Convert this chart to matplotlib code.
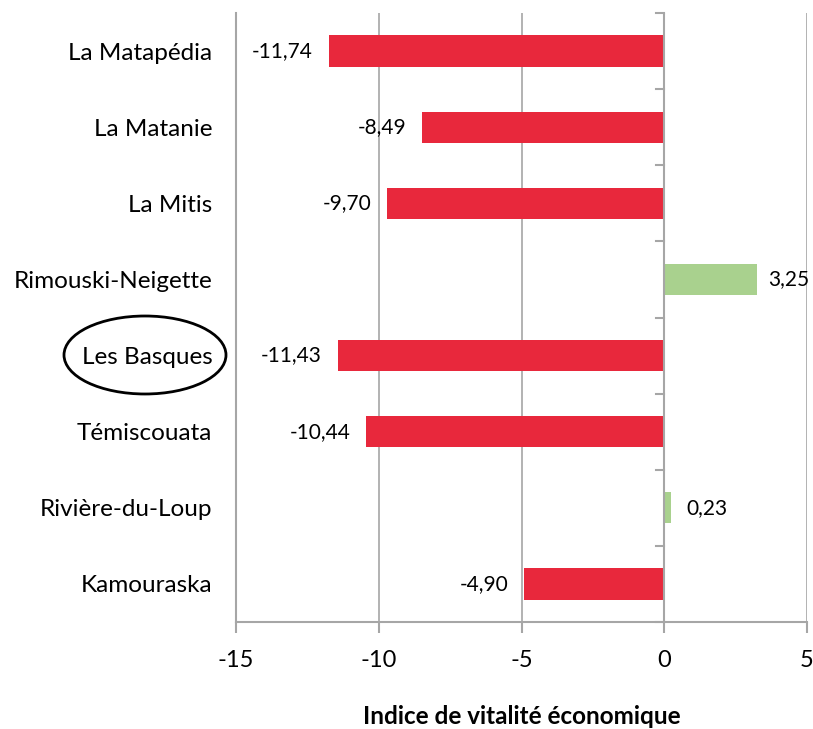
import matplotlib.pyplot as plt
from matplotlib.patches import Ellipse

# data, top to bottom
regions = ["La Matapédia", "La Matanie", "La Mitis", "Rimouski-Neigette",
           "Les Basques", "Témiscouata", "Rivière-du-Loup", "Kamouraska"]
values = [-11.74, -8.49, -9.70, 3.25, -11.43, -10.44, 0.23, -4.90]
xticks = [-15, -10, -5, 0, 5]

RED = "#E8283C"
GREEN = "#A9D18E"
GRID = "#A6A6A6"

plt.rcParams["font.family"] = ["Lato", "DejaVu Sans"]

fig = plt.figure(figsize=(8.13, 7.29), dpi=100)
ax = fig.add_axes([236 / 813, 107 / 729, 571 / 813, 609 / 729])

n = len(regions)
ypos = list(range(n))
colors = [RED if v < 0 else GREEN for v in values]
ax.barh(ypos, values, height=0.41, color=colors, zorder=3)

ax.set_xlim(-15, 5)
ax.set_ylim(n - 0.5, -0.5)

# vertical gridlines
for t in xticks[1:]:
    if t != 0:
        ax.axvline(t, color=GRID, lw=1.2, zorder=1)
ax.axvline(0, color=GRID, lw=1.5, zorder=4)

for s in ["top", "right"]:
    ax.spines[s].set_visible(False)
for s in ["left", "bottom"]:
    ax.spines[s].set_color(GRID)
    ax.spines[s].set_linewidth(1.5)

ax.set_xticks(xticks)
ax.set_xticklabels([str(t) for t in xticks], fontsize=17)
ax.tick_params(axis="x", length=8, width=1.5, color=GRID, pad=12)

ax.set_yticks(ypos)
ax.set_yticklabels(regions, fontsize=17.5)
ax.tick_params(axis="y", length=0, pad=17)

# category boundary ticks on the zero line
for b in range(n + 1):
    ax.plot([-0.28, 0], [b - 0.5, b - 0.5], color=GRID, lw=1.5,
            clip_on=False, zorder=4)

# data labels (kept inside the figure, like Excel does)
labels = []
for y, v in zip(ypos, values):
    txt = f"{v:.2f}".replace(".", ",")
    if v < 0:
        a = ax.annotate(txt, (v, y), xytext=(-11.5, 0), textcoords="offset points",
                        ha="right", va="center", fontsize=15)
    else:
        a = ax.annotate(txt, (v, y), xytext=(11, 0), textcoords="offset points",
                        ha="left", va="center", fontsize=15)
    labels.append(a)

ax.set_xlabel("Indice de vitalité économique", fontsize=17.5, fontweight="bold",
              labelpad=25)

fig.canvas.draw()
rend = fig.canvas.get_renderer()
W = fig.bbox.width
for a in labels:
    bb = a.get_window_extent(rend)
    over = bb.x1 - (W - 4)
    if over > 0:
        ox, oy = a.xyann
        a.xyann = (ox - over * 72 / fig.dpi, oy)

# circle around Les Basques
ell = Ellipse((145 / 813, 1 - 355 / 729), 162 / 813, 78 / 729,
              transform=fig.transFigure, fill=False, edgecolor="black", lw=2)
fig.patches.append(ell)

fig.savefig("out.png", dpi=100)
